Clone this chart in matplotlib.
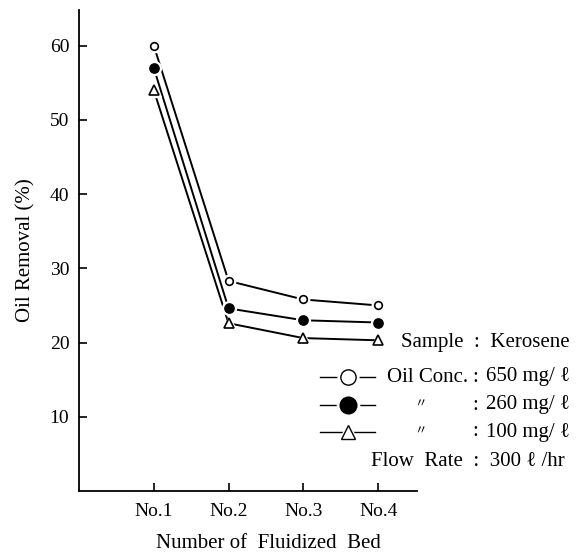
import matplotlib
matplotlib.use("Agg")
import matplotlib.pyplot as plt
from matplotlib.lines import Line2D

plt.rcParams['font.family'] = ['Liberation Serif', 'DejaVu Serif', 'Noto Sans CJK JP']

# data
beds = ["No.1", "No.2", "No.3", "No.4"]
bed_pos = [1, 2, 3, 4]
removal_650 = [60.0, 28.3, 25.8, 25.0]
removal_260 = [57.0, 24.6, 23.0, 22.7]
removal_100 = [54.0, 22.6, 20.6, 20.3]
y_ticks = [10, 20, 30, 40, 50, 60]

W, H = 583, 558
fig = plt.figure(figsize=(W / 100, H / 100), dpi=100)
ax = fig.add_axes([79 / W, 1 - 491 / H, (417 - 79) / W, (491 - 10) / H])

series = [
    (removal_650, 'o', 'white', 5.5),
    (removal_260, 'o', 'black', 6.5),
    (removal_100, '^', 'white', 6.5),
]
for vals, mk, fc, ms in series:
    ax.plot(bed_pos, vals, color='black', lw=1.4, zorder=2)
    # white halo so the line stops short of the marker
    ax.plot(bed_pos, vals, ls='none', marker=mk, ms=ms + 3.5, mfc='white', mec='white', zorder=3)
    ax.plot(bed_pos, vals, ls='none', marker=mk, ms=ms, mfc=fc, mec='black', mew=1.2, zorder=4)

ax.set_xlim(0, 4.52)
ax.set_ylim(0, 64.8)
ax.set_xticks(bed_pos)
ax.set_xticklabels(beds)
ax.set_yticks(y_ticks)
ax.tick_params(direction='in', length=6, width=1.2, labelsize=14, pad=7)
ax.tick_params(axis='x', pad=9)
ax.spines['top'].set_visible(False)
ax.spines['right'].set_visible(False)
for s in ('left', 'bottom'):
    ax.spines[s].set_linewidth(1.3)
ax.set_ylabel("Oil Removal (%)", fontsize=15, labelpad=10)

fig.text(268 / W, 1 - 543 / H, "Number of  Fluidized  Bed", fontsize=15, ha='center', va='center')


def fx(x):
    return x / W


def fy(y):
    return 1 - y / H


fig.text(fx(570), fy(343), "Sample  :  Kerosene", fontsize=15, ha='right', va='center')

rows = [
    (377, 'o', 'white', 11, "Oil Conc.", "650 mg/ ℓ"),
    (405, 'o', 'black', 12, "〃", "260 mg/ ℓ"),
    (432, '^', 'white', 10, "〃", "100 mg/ ℓ"),
]
for y, mk, fc, ms, name, conc in rows:
    fig.add_artist(Line2D([fx(320), fx(375)], [fy(y), fy(y)], color='black', lw=1.0))
    fig.add_artist(Line2D([fx(347.5)], [fy(y)], marker=mk, ms=ms + 4, mfc='white', mec='white', ls='none'))
    fig.add_artist(Line2D([fx(347.5)], [fy(y)], marker=mk, ms=ms, mfc=fc, mec='black', mew=1.0, ls='none'))
    if name == "〃":
        fig.text(fx(420), fy(y), name, fontsize=9, ha='center', va='center', style='italic')
    else:
        fig.text(fx(387), fy(y), name, fontsize=15, ha='left', va='center')
    fig.text(fx(475), fy(y), ":", fontsize=15, ha='center', va='center')
    fig.text(fx(570), fy(y), conc, fontsize=15, ha='right', va='center')

fig.text(fx(565), fy(462), "Flow  Rate  :  300 ℓ /hr", fontsize=15, ha='right', va='center')

fig.savefig("out.png", dpi=100)
